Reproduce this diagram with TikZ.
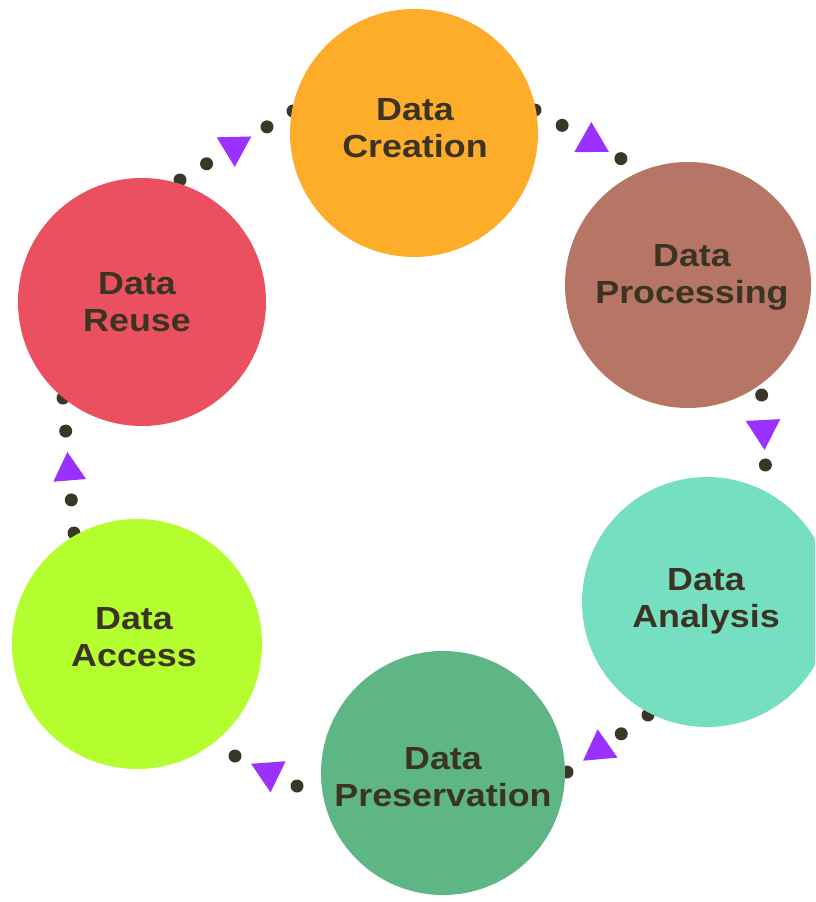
\documentclass[tikz,border=0pt]{standalone}
\usepackage{fontspec}
\newfontfamily\lblfont{Liberation Sans}[FakeStretch=1.12]
\usetikzlibrary{calc,shapes.geometric}
\definecolor{ccreation}{HTML}{FDAD29}
\definecolor{cprocessing}{HTML}{B67565}
\definecolor{canalysis}{HTML}{76DFC1}
\definecolor{cpreservation}{HTML}{5DB684}
\definecolor{caccess}{HTML}{B4FE2F}
\definecolor{creuse}{HTML}{EB5061}
\definecolor{txtc}{HTML}{3B3423}
\definecolor{dotcol}{HTML}{393826}
\definecolor{tric}{HTML}{9B31FE}
\begin{document}
\begin{tikzpicture}[x=1pt,y=-1pt,
  stage/.style={circle, inner sep=0pt, minimum size=#1},
  stage/.default=248pt,
  lbl/.style={align=center, font=\lblfont\bfseries\fontsize{32}{37}\selectfont, text=txtc, inner sep=0pt, text depth=0pt},
  dotmark/.style={fill=dotcol},
  arrowtri/.style={regular polygon, regular polygon sides=3, shape border rotate=-90, minimum size=40pt, inner sep=0pt, fill=tric, sloped, allow upside down}]
\useasboundingbox (0,0) rectangle (815,902);
\clip (0,0) rectangle (815,902);

% connector end coordinates
\coordinate (c1s) at (535,110); \coordinate (c1e) at (648,174);
\coordinate (c2s) at (760,364); \coordinate (c2e) at (767,496);
\coordinate (c3s) at (648,715); \coordinate (c3e) at (567,772);
\coordinate (c4s) at (297,786); \coordinate (c4e) at (235,756);
\coordinate (c5s) at (74,533);  \coordinate (c5e) at (63,398);
\coordinate (c6s) at (180,180); \coordinate (c6e) at (293,111);

% dotted connectors
\foreach \f in {0,0.24,0.76} \fill[dotmark] ($(c1s)!\f!(c1e)$) circle (6.5pt);
\foreach \f in {0,0.235,0.765} \fill[dotmark] ($(c2s)!\f!(c2e)$) circle (6.5pt);
\foreach \f in {0,0.33,1} \fill[dotmark] ($(c3s)!\f!(c3e)$) circle (6.5pt);
\foreach \f in {0,1} \fill[dotmark] ($(c4s)!\f!(c4e)$) circle (6.5pt);
\foreach \f in {0,0.245,0.755,1} \fill[dotmark] ($(c5s)!\f!(c5e)$) circle (6.5pt);
\foreach \f in {0,0.235,0.77,1} \fill[dotmark] ($(c6s)!\f!(c6e)$) circle (6.5pt);

% arrow triangles
\path (c1s) -- (c1e) node[arrowtri, pos=0.5] (t1) {};
\path (c2s) -- (c2e) node[arrowtri, pos=0.5] (t2) {};
\path (c3s) -- (c3e) node[arrowtri, pos=0.6] (t3) {};
\path (c4s) -- (c4e) node[arrowtri, pos=0.45] (t4) {};
\path (c5s) -- (c5e) node[arrowtri, pos=0.46, minimum size=38pt] (t5) {};
\path (c6s) -- (c6e) node[arrowtri, pos=0.48] (t6) {};

% stages
\node[stage, fill=ccreation] (creation) at (414,133) {};
\node[stage=246pt, fill=cprocessing] (processing) at (688,285) {};
\node[stage=250pt, fill=canalysis] (analysis) at (707,602) {};
\node[stage=244pt, fill=cpreservation] (preservation) at (443,773) {};
\node[stage=250pt, fill=caccess] (access) at (137,644) {};
\node[stage, fill=creuse] (reuse) at (142,302) {};

% labels
\node[lbl] (lcreation) at (415,128) {Data\\Creation};
\node[lbl] (lprocessing) at (692,274) {Data\\Processing};
\node[lbl] (lanalysis) at (706,598) {Data\\Analysis};
\node[lbl] (lpreservation) at (443,777) {Data\\Preservation};
\node[lbl] (laccess) at (134,637) {Data\\Access};
\node[lbl] (lreuse) at (137,302) {Data\\Reuse};
\end{tikzpicture}
\end{document}
